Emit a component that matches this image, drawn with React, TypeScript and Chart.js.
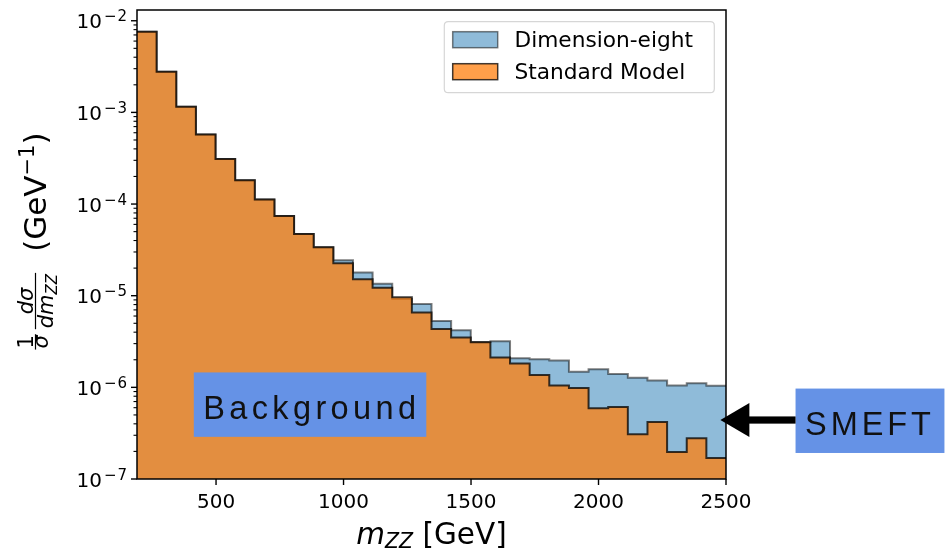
import React, { useEffect, useRef } from 'react';
import { Chart, registerables } from 'chart.js';

Chart.register(...registerables);

// ---- data -------------------------------------------------------------
const binEdges = [
  190, 267, 344, 421, 498, 575, 652, 729, 806, 883, 960, 1037, 1114, 1191, 1268, 1345,
  1422, 1499, 1576, 1653, 1730, 1807, 1884, 1961, 2038, 2115, 2192, 2269, 2346, 2423, 2500,
];

const standardModel = [
  7.58e-3, 2.78e-3, 1.15e-3, 5.75e-4, 3.11e-4, 1.82e-4, 1.12e-4, 7.4e-5, 4.7e-5, 3.38e-5,
  2.26e-5, 1.51e-5, 1.22e-5, 9.6e-6, 6.56e-6, 4.34e-6, 3.5e-6, 3.1e-6, 2.12e-6, 1.82e-6,
  1.36e-6, 1.05e-6, 9.85e-7, 5.9e-7, 6.1e-7, 3.08e-7, 4.2e-7, 1.97e-7, 2.78e-7, 1.7e-7,
];

const dimensionEight = [
  7.58e-3, 2.78e-3, 1.15e-3, 5.75e-4, 3.11e-4, 1.82e-4, 1.12e-4, 7.4e-5, 4.7e-5, 3.38e-5,
  2.44e-5, 1.79e-5, 1.35e-5, 9.2e-6, 8.14e-6, 5.31e-6, 4.2e-6, 3.12e-6, 3.19e-6, 2.08e-6,
  2.03e-6, 1.96e-6, 1.48e-6, 1.58e-6, 1.4e-6, 1.27e-6, 1.19e-6, 1.05e-6, 1.11e-6, 1.04e-6,
];

const seriesLabels = ['Dimension-eight', 'Standard Model'];
const xTickValues = [500, 1000, 1500, 2000, 2500];
const yTickExponents = [-7, -6, -5, -4, -3, -2];
const xRange = [190, 2500];
const yRange = [1e-7, 1.31e-2];

const backgroundNote = { text: 'Background', x: 450, y: 4.5e-7 };
const smeftNote = { text: 'SMEFT', x: 2810, y: 3e-7, pointX: 2478, pointY: 4.4e-7 };

// ---- helpers ------------------------------------------------------------
const FONT = '"DejaVu Sans", sans-serif';
const NOTE_FONT = '"Liberation Sans", Arial, sans-serif';

function toSteps(values: number[]) {
  const pts = values.map((v, i) => ({ x: binEdges[i], y: v }));
  pts.push({ x: binEdges[binEdges.length - 1], y: values[values.length - 1] });
  return pts;
}

function txt(ctx: CanvasRenderingContext2D, s: string, x: number, y: number, font: string) {
  ctx.font = font;
  ctx.fillText(s, x, y);
  return ctx.measureText(s).width;
}

function w(ctx: CanvasRenderingContext2D, s: string, font: string) {
  ctx.font = font;
  return ctx.measureText(s).width;
}

function drawNote(ctx: CanvasRenderingContext2D, text: string, x: number, y: number, targetInk: number) {
  ctx.save();
  ctx.font = `32.5px ${NOTE_FONT}`;
  const m = ctx.measureText(text);
  const ink = m.actualBoundingBoxRight + m.actualBoundingBoxLeft;
  const spacing = (targetInk - ink) / (text.length - 1);
  (ctx as any).letterSpacing = `${spacing}px`;
  const inkEnd = x + targetInk + 2;
  ctx.fillStyle = '#6592e6';
  ctx.fillRect(x - 9.5, y - 46.7, inkEnd - (x - 9.5) + 12.4, 64.4);
  ctx.fillStyle = '#111';
  ctx.textAlign = 'left';
  ctx.textBaseline = 'alphabetic';
  ctx.fillText(text, x, y);
  ctx.restore();
}

const decorations = {
  id: 'decorations',
  afterDraw(chart: any) {
    const { ctx, chartArea: a, scales } = chart;
    const xs = scales.x;
    const ys = scales.y;
    ctx.save();
    ctx.fillStyle = '#000';
    ctx.strokeStyle = '#000';
    ctx.textBaseline = 'alphabetic';

    // annotation boxes
    const bx = xs.getPixelForValue(backgroundNote.x);
    const by = ys.getPixelForValue(backgroundNote.y);
    drawNote(ctx, backgroundNote.text, bx, by, 208.6);

    const sx = xs.getPixelForValue(smeftNote.x);
    const sy = ys.getPixelForValue(smeftNote.y);
    drawNote(ctx, smeftNote.text, sx, sy, 125);

    // arrow
    const tipX = xs.getPixelForValue(smeftNote.pointX);
    const tipY = ys.getPixelForValue(smeftNote.pointY);
    const boxLeft = sx - 9.5;
    const headBase = tipX + 29;
    ctx.fillStyle = '#000';
    ctx.fillRect(headBase - 1, tipY - 3.6, boxLeft - headBase + 1, 7.2);
    ctx.beginPath();
    ctx.moveTo(tipX, tipY);
    ctx.lineTo(headBase, tipY - 17);
    ctx.lineTo(headBase, tipY + 17);
    ctx.closePath();
    ctx.fill();

    // spines
    ctx.lineWidth = 1.5;
    ctx.strokeRect(a.left, a.top, a.right - a.left, a.bottom - a.top);

    // y ticks
    ctx.lineWidth = 1.4;
    for (const e of yTickExponents) {
      const y = ys.getPixelForValue(Math.pow(10, e));
      ctx.beginPath();
      ctx.moveTo(a.left - 6, y);
      ctx.lineTo(a.left, y);
      ctx.stroke();
    }
    ctx.lineWidth = 1.1;
    for (const e of yTickExponents) {
      for (let k = 2; k <= 9; k++) {
        const v = k * Math.pow(10, e);
        if (v > yRange[1]) continue;
        const y = ys.getPixelForValue(v);
        ctx.beginPath();
        ctx.moveTo(a.left - 3.5, y);
        ctx.lineTo(a.left, y);
        ctx.stroke();
      }
    }
    // y tick labels
    ctx.textAlign = 'left';
    for (const e of yTickExponents) {
      const y = ys.getPixelForValue(Math.pow(10, e));
      const mainF = `20px ${FONT}`;
      const supF = `15px ${FONT}`;
      const digits = String(Math.abs(e));
      const minusW = w(ctx, '\u2212', supF);
      const digW = w(ctx, digits, supF);
      const mainW = w(ctx, '10', mainF);
      const right = a.left - 10;
      const supStart = right - digW - 1 - minusW;
      txt(ctx, '10', supStart - 2 - mainW, y + 7.5, mainF);
      txt(ctx, '\u2212', supStart, y + 0.5, supF);
      txt(ctx, digits, right - digW, y + 0.5, supF);
    }

    // x ticks
    ctx.lineWidth = 1.4;
    ctx.textAlign = 'center';
    for (const v of xTickValues) {
      const x = xs.getPixelForValue(v);
      ctx.beginPath();
      ctx.moveTo(x, a.bottom);
      ctx.lineTo(x, a.bottom + 6);
      ctx.stroke();
      txt(ctx, String(v), x, a.bottom + 29, `20px ${FONT}`);
    }

    // x label: m_ZZ [GeV]
    ctx.textAlign = 'left';
    {
      const fM = `italic 29.5px ${FONT}`;
      const fSub = `italic 20.5px ${FONT}`;
      const fR = `29.5px ${FONT}`;
      const total = w(ctx, 'm', fM) + w(ctx, 'ZZ', fSub) + w(ctx, ' [GeV]', fR);
      let x = (a.left + a.right) / 2 - total / 2;
      const base = 544;
      x += txt(ctx, 'm', x, base, fM);
      x += txt(ctx, 'ZZ', x, base + 4, fSub);
      txt(ctx, ' [GeV]', x, base, fR);
    }

    // y label (rotated)
    {
      const big = 31;
      const small = 21;
      const fBig = `${big}px ${FONT}`;
      const fSmall = `${small}px ${FONT}`;
      const fSmallI = `italic ${small}px ${FONT}`;
      const fSub = `italic 15px ${FONT}`;
      const fSup = `21px ${FONT}`;
      const w1 = Math.max(w(ctx, '1', fSmall), w(ctx, '\u03c3', fSmallI)) + 4;
      const denW = w(ctx, 'dm', fSmallI) + w(ctx, 'ZZ', fSub);
      const w2 = Math.max(w(ctx, 'd\u03c3', fSmallI), denW) + 4;
      const gap1 = 3;
      const gap2 = 20;
      const g1 = w(ctx, '(GeV', fBig);
      const g2 = w(ctx, '\u22121', fSup);
      const g3 = w(ctx, ')', fBig);
      const total = w1 + gap1 + w2 + gap2 + g1 + g2 + g3;
      ctx.save();
      ctx.translate(46, (a.top + a.bottom) / 2 - 3);
      ctx.rotate(-Math.PI / 2);
      let x = -total / 2;
      const bar = -10.5;
      ctx.lineWidth = 1.2;
      // frac 1
      ctx.textAlign = 'center';
      txt(ctx, '1', x + w1 / 2, bar - 2.5, fSmall);
      txt(ctx, '\u03c3', x + w1 / 2, bar + 12, fSmallI);
      ctx.beginPath();
      ctx.moveTo(x + 1, bar);
      ctx.lineTo(x + w1 - 1, bar);
      ctx.stroke();
      x += w1 + gap1;
      // frac 2
      txt(ctx, 'd\u03c3', x + w2 / 2, bar - 2.5, fSmallI);
      ctx.textAlign = 'left';
      const dx = x + (w2 - denW) / 2;
      const dmW = txt(ctx, 'dm', dx, bar + 17, fSmallI);
      txt(ctx, 'ZZ', dx + dmW, bar + 21, fSub);
      ctx.beginPath();
      ctx.moveTo(x + 1, bar);
      ctx.lineTo(x + w2 - 1, bar);
      ctx.stroke();
      x += w2 + gap2;
      // (GeV^-1)
      x += txt(ctx, '(GeV', x, 0, fBig);
      x += txt(ctx, '\u22121', x, -12, fSup);
      txt(ctx, ')', x, 0, fBig);
      ctx.restore();
    }

    // legend
    {
      const lx = 444.3, ly = 21.7, lw = 270, lh = 71, r = 4;
      ctx.beginPath();
      ctx.moveTo(lx + r, ly);
      ctx.lineTo(lx + lw - r, ly);
      ctx.quadraticCurveTo(lx + lw, ly, lx + lw, ly + r);
      ctx.lineTo(lx + lw, ly + lh - r);
      ctx.quadraticCurveTo(lx + lw, ly + lh, lx + lw - r, ly + lh);
      ctx.lineTo(lx + r, ly + lh);
      ctx.quadraticCurveTo(lx, ly + lh, lx, ly + lh - r);
      ctx.lineTo(lx, ly + r);
      ctx.quadraticCurveTo(lx, ly, lx + r, ly);
      ctx.closePath();
      ctx.fillStyle = 'rgba(255,255,255,0.8)';
      ctx.fill();
      ctx.strokeStyle = '#d6d6d6';
      ctx.lineWidth = 1.2;
      ctx.stroke();

      const fills = ['rgba(31,119,180,0.5)', 'rgba(255,127,14,0.75)'];
      const edges = ['rgba(0,0,0,0.5)', 'rgba(0,0,0,0.75)'];
      const rows = [31.7, 63.7];
      ctx.textAlign = 'left';
      seriesLabels.forEach((label, i) => {
        ctx.fillStyle = fills[i];
        ctx.fillRect(452.7, rows[i], 45, 16);
        ctx.strokeStyle = edges[i];
        ctx.lineWidth = 1.5;
        ctx.strokeRect(452.7, rows[i], 45, 16);
        ctx.fillStyle = '#000';
        txt(ctx, label, 514.5, rows[i] + 15.2, `21.7px ${FONT}`);
      });
    }

    ctx.restore();
  },
};

export default function App() {
  const canvasRef = useRef<HTMLCanvasElement | null>(null);

  useEffect(() => {
    const canvas = canvasRef.current;
    if (!canvas) return;
    const chart = new Chart(canvas, {
      type: 'line',
      data: {
        datasets: [
          {
            label: seriesLabels[1],
            data: toSteps(standardModel),
            stepped: 'before',
            fill: 'start',
            backgroundColor: 'rgba(255,127,14,0.75)',
            borderColor: 'rgba(0,0,0,0.75)',
            borderWidth: 2,
            pointRadius: 0,
            order: 0,
          },
          {
            label: seriesLabels[0],
            data: toSteps(dimensionEight),
            stepped: 'before',
            fill: 'start',
            backgroundColor: 'rgba(31,119,180,0.5)',
            borderColor: 'rgba(0,0,0,0.5)',
            borderWidth: 2,
            pointRadius: 0,
            order: 1,
          },
        ],
      },
      options: {
        animation: false,
        responsive: false,
        maintainAspectRatio: false,
        events: [],
        layout: { padding: { left: 137, right: 222, top: 10, bottom: 70 } },
        scales: {
          x: { type: 'linear', min: xRange[0], max: xRange[1], display: false },
          y: { type: 'logarithmic', min: yRange[0], max: yRange[1], display: false },
        },
        plugins: {
          legend: { display: false },
          tooltip: { enabled: false },
        },
      },
      plugins: [decorations],
    } as any);
    return () => chart.destroy();
  }, []);

  return (
    <div style={{ position: 'absolute', left: 0, top: 0, width: 948, height: 549, background: '#fff' }}>
      <canvas ref={canvasRef} width={948} height={549} />
    </div>
  );
}
